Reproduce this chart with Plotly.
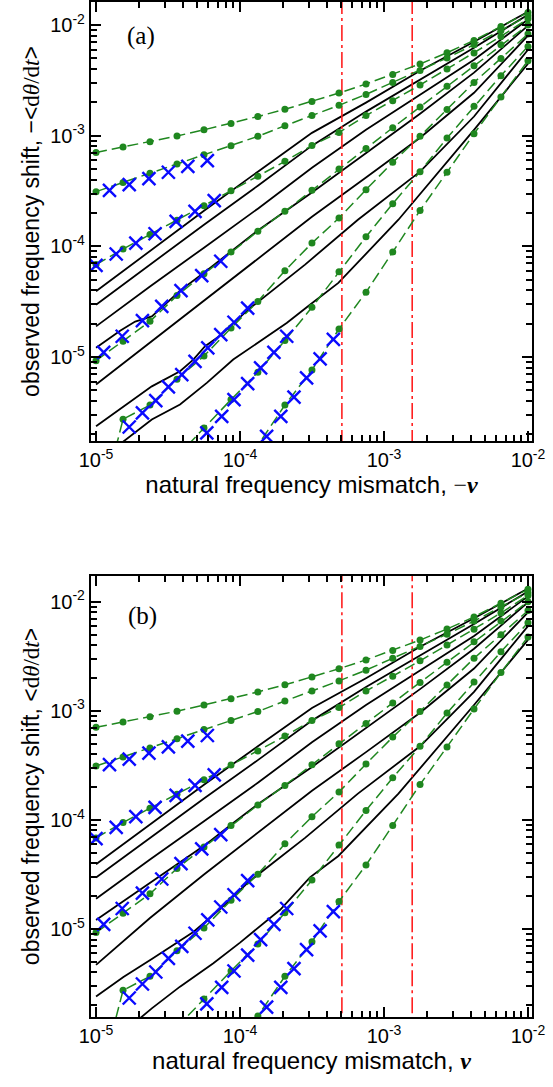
import plotly.graph_objects as go

# ---------------- data ----------------
# green simulation points (common x grid)
GX = [1.00e-5, 1.54e-5, 2.37e-5, 3.65e-5, 5.62e-5, 8.66e-5, 1.33e-4, 2.05e-4, 3.16e-4,
      4.87e-4, 7.50e-4, 1.15e-3, 1.78e-3, 2.74e-3, 4.22e-3, 6.49e-3, 1.00e-2]
G1 = [7.06e-4, 7.91e-4, 8.83e-4, 9.93e-4, 1.13e-3, 1.29e-3, 1.49e-3, 1.73e-3, 2.04e-3,
      2.43e-3, 2.93e-3, 3.58e-3, 4.45e-3, 5.62e-3, 7.26e-3, 9.70e-3, 1.30e-2]
G2 = [3.12e-4, 3.78e-4, 4.57e-4, 5.55e-4, 6.73e-4, 8.13e-4, 9.86e-4, 1.23e-3, 1.52e-3,
      1.88e-3, 2.36e-3, 3.03e-3, 3.89e-3, 5.04e-3, 6.64e-3, 8.93e-3, 1.21e-2]
G3 = [6.84e-5, 9.46e-5, 1.28e-4, 1.72e-4, 2.33e-4, 3.18e-4, 4.29e-4, 5.86e-4, 8.17e-4,
      1.07e-3, 1.52e-3, 2.07e-3, 2.87e-3, 4.01e-3, 5.59e-3, 7.89e-3, 1.14e-2]
G4 = [9.27e-6, 1.39e-5, 2.10e-5, 3.59e-5, 5.64e-5, 8.89e-5, 1.37e-4, 2.07e-4, 3.21e-4,
      5.00e-4, 7.64e-4, 1.18e-3, 1.82e-3, 2.79e-3, 4.29e-3, 6.64e-3, 1.00e-2]
G5 = [3.0e-7, 2.74e-6, 3.68e-6, 6.30e-6, 1.02e-5, 1.83e-5, 3.18e-5, 6.03e-5, 1.07e-4,
      1.80e-4, 3.25e-4, 5.74e-4, 9.86e-4, 1.72e-3, 3.03e-3, 4.99e-3, 8.30e-3]
G6 = [None, None, None, 1.26e-6, 2.28e-6, 4.12e-6, 7.28e-6, 1.41e-5, 2.81e-5,
      5.88e-5, 1.22e-4, 2.43e-4, 4.73e-4, 9.53e-4, 1.84e-3, 3.48e-3, 6.41e-3]
G7 = [None, None, None, None, None, 8.5e-7, 1.59e-6, 3.68e-6, 7.64e-6,
      1.79e-5, 3.85e-5, 8.89e-5, 2.11e-4, 4.67e-4, 1.04e-3, 2.24e-3, 4.76e-3]
GREEN = [G1, G2, G3, G4, G5, G6, G7]

# blue crosses
XA_x = [1.24e-5, 1.70e-5, 2.33e-5, 3.18e-5, 4.34e-5, 5.93e-5]
XA_y = [3.21e-4, 3.61e-4, 4.09e-4, 4.67e-4, 5.28e-4, 5.94e-4]
XB_x = [1.00e-5, 1.38e-5, 1.89e-5, 2.57e-5, 3.60e-5, 4.87e-5, 6.62e-5]
XB_y = [6.73e-5, 8.53e-5, 1.07e-4, 1.30e-4, 1.68e-4, 2.07e-4, 2.59e-4]
XC_x = [1.13e-5, 1.52e-5, 2.10e-5, 2.86e-5, 3.89e-5, 5.42e-5, 7.35e-5]
XC_y = [1.10e-5, 1.54e-5, 2.13e-5, 2.87e-5, 3.98e-5, 5.43e-5, 7.33e-5]
XD_x = [1.70e-5, 2.10e-5, 2.60e-5, 3.18e-5, 3.94e-5, 4.87e-5, 5.97e-5, 7.35e-5, 9.08e-5, 1.13e-4]
XD_y = [2.33e-6, 3.13e-6, 4.03e-6, 5.37e-6, 6.93e-6, 9.14e-6, 1.21e-5, 1.59e-5, 2.06e-5, 2.77e-5]
XE_x = [5.88e-5, 7.46e-5, 9.08e-5, 1.13e-4, 1.39e-4, 1.72e-4, 2.11e-4]
XE_y = [2.06e-6, 2.91e-6, 4.12e-6, 5.75e-6, 7.98e-6, 1.10e-5, 1.54e-5]
XF_x = [1.53e-4, 1.92e-4, 2.37e-4, 2.90e-4, 3.60e-4, 4.45e-4]
XF_y = [1.92e-6, 2.91e-6, 4.33e-6, 6.47e-6, 9.62e-6, 1.44e-5]
BLUE = [(XA_x, XA_y), (XB_x, XB_y), (XC_x, XC_y), (XD_x, XD_y), (XE_x, XE_y), (XF_x, XF_y)]

# black theory curves, panel (a)
BX = [1.00e-5, 2.37e-5, 5.62e-5, 1.33e-4, 3.16e-4, 7.50e-4, 1.78e-3, 4.22e-3, 1.00e-2]
B1 = [3.92e-5, 9.06e-5, 2.10e-4, 4.73e-4, 1.06e-3, 1.99e-3, 3.86e-3, 7.06e-3, 1.32e-2]
B2 = [2.97e-5, 6.84e-5, 1.57e-4, 3.53e-4, 8.13e-4, 1.65e-3, 3.21e-3, 6.24e-3, 1.24e-2]
B3 = [1.89e-5, 4.33e-5, 9.73e-5, 2.19e-4, 5.14e-4, 1.13e-3, 2.34e-3, 4.86e-3, 1.12e-2]
B4_x = [1.00e-5, 1.47e-5, 1.87e-5, 2.44e-5, 3.01e-5, 3.83e-5, 5.62e-5, 8.93e-5, 1.33e-4,
        3.16e-4, 7.50e-4, 1.78e-3, 4.22e-3, 1.00e-2]
B4_y = [1.21e-5, 1.73e-5, 2.09e-5, 2.33e-5, 2.97e-5, 3.98e-5, 5.78e-5, 9.33e-5, 1.39e-4,
        3.06e-4, 7.02e-4, 1.58e-3, 3.71e-3, 9.86e-3]
B5 = [5.64e-6, 1.35e-5, 3.23e-5, 7.59e-5, 1.85e-4, 4.18e-4, 9.59e-4, 2.44e-3, 8.00e-3]
B6_x = [1.00e-5, 1.55e-5, 2.44e-5, 3.83e-5, 4.74e-5, 5.72e-5, 7.26e-5, 1.14e-4, 2.83e-4,
        6.59e-4, 1.78e-3, 4.22e-3, 1.00e-2]
B6_y = [2.37e-6, 3.59e-6, 5.43e-6, 7.43e-6, 9.48e-6, 1.25e-5, 1.56e-5, 2.68e-5, 6.84e-5,
        1.74e-4, 4.73e-4, 1.49e-3, 5.98e-3]
B7_x = [1.00e-5, 2.44e-5, 3.83e-5, 5.88e-5, 8.97e-5, 1.45e-4, 2.11e-4, 3.06e-4, 4.82e-4,
        1.26e-3, 4.22e-3, 1.00e-2]
B7_y = [1.11e-6, 2.72e-6, 3.72e-6, 5.83e-6, 9.48e-6, 1.44e-5, 2.03e-5, 2.97e-5, 4.67e-5,
        1.74e-4, 1.13e-3, 4.47e-3]
BLACK_A = [(BX, B1), (BX, B2), (BX, B3), (B4_x, B4_y), (BX, B5), (B6_x, B6_y), (B7_x, B7_y)]

# black theory curves, panel (b) (where they differ from (a))
B4b_y = [1.21e-5, 1.71e-5, 2.12e-5, 2.69e-5, 3.26e-5, 4.04e-5, 5.78e-5, 9.33e-5, 1.39e-4,
         3.06e-4, 7.02e-4, 1.58e-3, 3.71e-3, 9.86e-3]
B5b = [4.68e-6, 1.26e-5, 3.16e-5, 7.59e-5, 1.85e-4, 4.18e-4, 9.59e-4, 2.44e-3, 8.00e-3]
B6b_y = [2.40e-6, 3.63e-6, 5.30e-6, 7.80e-6, 9.40e-6, 1.16e-5, 1.52e-5, 2.68e-5, 6.84e-5,
         1.74e-4, 4.73e-4, 1.49e-3, 5.98e-3]
B7b_x = [1.00e-5, 2.44e-5, 3.83e-5, 6.53e-5, 1.00e-4, 1.90e-4, 3.06e-4, 4.82e-4,
         1.26e-3, 4.22e-3, 1.00e-2]
B7b_y = [7.0e-7, 1.87e-6, 2.96e-6, 4.85e-6, 7.50e-6, 1.50e-5, 2.97e-5, 4.67e-5,
         1.74e-4, 1.13e-3, 4.47e-3]
BLACK_B = [(BX, B1), (BX, B2), (BX, B3), (B4_x, B4b_y), (BX, B5b), (B6_x, B6b_y), (B7b_x, B7b_y)]

RED_X = [5.1e-4, 1.57e-3]

XTICKS = [1e-5, 1e-4, 1e-3, 1e-2]
XTICKTEXT = ["10<sup>-5</sup>", "10<sup>-4</sup>", "10<sup>-3</sup>", "10<sup>-2</sup>"]
YTICKS = [1e-5, 1e-4, 1e-3, 1e-2]
YTICKTEXT = ["10<sup>-5</sup>", "10<sup>-4</sup>", "10<sup>-3</sup>", "10<sup>-2</sup>"]

# ---------------- style ----------------
GREEN_C = "#1f871f"
BLUE_C = "#0a0aff"
RED_C = "#ff2020"
SANS = "Liberation Sans, Arial, sans-serif"
SERIF = "Liberation Serif, Times New Roman, serif"

fig = go.Figure()

def add_panel(xa, ya, black):
    for xs, ys in black:
        fig.add_trace(go.Scatter(x=xs, y=ys, mode="lines", xaxis=xa, yaxis=ya,
                                 line=dict(color="black", width=1.8), showlegend=False,
                                 hoverinfo="skip"))
    for rx in RED_X:
        fig.add_trace(go.Scatter(x=[rx, rx], y=[1e-8, 1.0], mode="lines", xaxis=xa, yaxis=ya,
                                 line=dict(color=RED_C, width=1.6, dash="16px,4px,3px,4px"),
                                 showlegend=False, hoverinfo="skip"))
    for g in GREEN:
        fig.add_trace(go.Scatter(x=GX, y=g, mode="lines+markers", xaxis=xa, yaxis=ya,
                                 line=dict(color=GREEN_C, width=1.5, dash="11px,5px"),
                                 marker=dict(color=GREEN_C, size=7, symbol="circle"),
                                 connectgaps=False, showlegend=False, hoverinfo="skip"))
    for xs, ys in BLUE:
        fig.add_trace(go.Scatter(x=xs, y=ys, mode="markers", xaxis=xa, yaxis=ya,
                                 marker=dict(symbol="x-thin", size=13,
                                             line=dict(color=BLUE_C, width=2.4)),
                                 showlegend=False, hoverinfo="skip"))

add_panel("x", "y", BLACK_A)
add_panel("x2", "y2", BLACK_B)

minor_vals = [m * 10.0 ** e for e in range(-7, 0) for m in range(2, 10)]

def xaxis_cfg(anchor, title):
    return dict(type="log", range=[-5.035, -1.972], anchor=anchor, automargin=False,
                tickvals=XTICKS, ticktext=XTICKTEXT, ticks="inside", ticklen=10,
                tickwidth=1.8, tickcolor="black", showline=True, linewidth=2.2,
                linecolor="black", mirror="ticks", showgrid=False, zeroline=False,
                tickfont=dict(family=SANS, size=20, color="black"),
                minor=dict(tickvals=minor_vals, ticks="inside", ticklen=6, tickwidth=1.5,
                           tickcolor="black", showgrid=False),
                title=dict(text=title, font=dict(family=SANS, size=24, color="black"),
                           standoff=6))

def yaxis_cfg(domain, rng, anchor, title):
    return dict(type="log", range=rng, domain=domain, anchor=anchor, automargin=False,
                tickvals=YTICKS, ticktext=YTICKTEXT, ticks="inside", ticklen=10,
                tickwidth=1.8, tickcolor="black", showline=True, linewidth=2.2,
                linecolor="black", mirror="ticks", showgrid=False, zeroline=False,
                tickfont=dict(family=SANS, size=20, color="black"),
                minor=dict(tickvals=minor_vals, ticks="inside", ticklen=6, tickwidth=1.5,
                           tickcolor="black", showgrid=False),
                title=dict(text=title, font=dict(family=SANS, size=23, color="black"),
                           standoff=4))

ytitle_a = ("observed frequency shift, −&lt;<span style=\"font-family:'Liberation Serif'\">"
            "d<i>θ</i>/d<i>t</i></span>&gt;")
ytitle_b = ("observed frequency shift, &lt;<span style=\"font-family:'Liberation Serif'\">"
            "d<i>θ</i>/d<i>t</i></span>&gt;")
xtitle_a = ("natural frequency mismatch, <span style=\"font-family:'Liberation Serif'\">"
            "−<b><i>ν</i></b></span>")
xtitle_b = ("natural frequency mismatch, <span style=\"font-family:'Liberation Serif'\">"
            "<b><i>ν</i></b></span>")

fig.update_layout(
    template="none",
    width=553, height=1087,
    margin=dict(l=91, r=21, t=2, b=70, autoexpand=False),
    paper_bgcolor="white", plot_bgcolor="white",
    showlegend=False,
    xaxis=xaxis_cfg("y", xtitle_a),
    yaxis=yaxis_cfg([0.5675, 1.0], [-5.759, -1.792], "x", ytitle_a),
    xaxis2=xaxis_cfg("y2", xtitle_b),
    yaxis2=yaxis_cfg([0.0, 0.4345], [-5.807, -1.764], "x2", ytitle_b),
    annotations=[
        dict(text="(a)", xref="x domain", yref="y domain", x=0.1145, y=0.9226,
             xanchor="center", yanchor="middle", showarrow=False,
             font=dict(family=SERIF, size=25, color="black")),
        dict(text="(b)", xref="x2 domain", yref="y2 domain", x=0.1165, y=0.909,
             xanchor="center", yanchor="middle", showarrow=False,
             font=dict(family=SERIF, size=25, color="black")),
    ],
)

fig.write_html("out.html", config={"displayModeBar": False},
               post_script="document.body.style.margin='0px';document.body.style.overflow='hidden';")
